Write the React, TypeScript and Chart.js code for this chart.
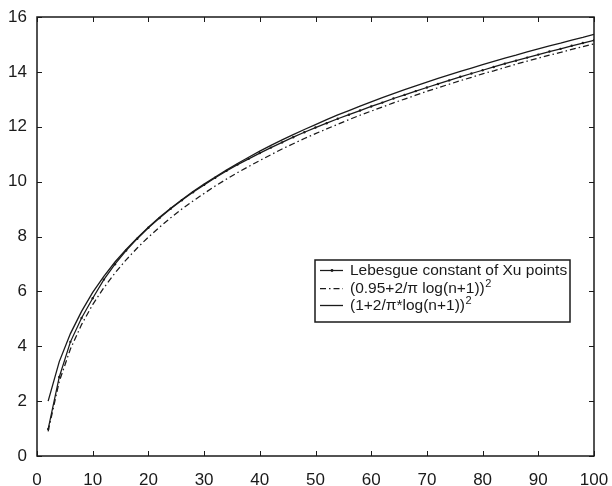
import React, { useEffect, useRef } from "react";
import { Chart, registerables } from "chart.js";

Chart.register(...registerables);

const nValues = [2, 4, 6, 8, 10, 12, 14, 16, 18, 20, 22, 24, 26, 28, 30, 32, 34, 36, 38, 40, 42, 44, 46, 48, 50, 52, 54, 56, 58, 60, 62, 64, 66, 68, 70, 72, 74, 76, 78, 80, 82, 84, 86, 88, 90, 92, 94, 96, 98, 100];

const lebesgueXu = [0.98, 2.88, 4.16, 5.03, 5.75, 6.43, 6.99, 7.49, 7.92, 8.32, 8.67, 9.01, 9.32, 9.61, 9.88, 10.14, 10.39, 10.62, 10.83, 11.04, 11.24, 11.43, 11.62, 11.8, 11.97, 12.13, 12.29, 12.44, 12.59, 12.74, 12.88, 13.03, 13.16, 13.3, 13.43, 13.56, 13.69, 13.82, 13.94, 14.06, 14.18, 14.3, 14.41, 14.52, 14.63, 14.74, 14.84, 14.95, 15.05, 15.15];

const bound095 = [0.9, 2.72, 3.9, 4.79, 5.52, 6.13, 6.67, 7.15, 7.58, 7.98, 8.34, 8.68, 9.0, 9.29, 9.57, 9.84, 10.09, 10.33, 10.55, 10.77, 10.98, 11.19, 11.38, 11.57, 11.75, 11.92, 12.09, 12.26, 12.42, 12.57, 12.72, 12.87, 13.01, 13.15, 13.29, 13.42, 13.55, 13.68, 13.8, 13.93, 14.04, 14.16, 14.28, 14.39, 14.5, 14.61, 14.71, 14.82, 14.92, 15.02];

const bound1 = [2.0, 3.44, 4.46, 5.27, 5.96, 6.55, 7.07, 7.53, 7.95, 8.34, 8.7, 9.03, 9.34, 9.64, 9.91, 10.17, 10.42, 10.66, 10.89, 11.11, 11.32, 11.52, 11.71, 11.9, 12.08, 12.26, 12.43, 12.59, 12.75, 12.91, 13.06, 13.21, 13.35, 13.49, 13.63, 13.76, 13.89, 14.02, 14.14, 14.26, 14.38, 14.5, 14.61, 14.73, 14.84, 14.95, 15.05, 15.16, 15.26, 15.37];

const seriesLabels = [
  "Lebesgue constant of Xu points",
  "(0.95+2/\u03c0 log(n+1))\u00b2",
  "(1+2/\u03c0*log(n+1))\u00b2",
];

const FONT = "'Liberation Sans', Arial, Helvetica, sans-serif";
const INK = "#1a1a1a";

const framePlugin = {
  id: "frameTicks",
  afterDraw(chart: any) {
    const { ctx, chartArea: a, scales } = chart;
    const xs = scales.x;
    const ys = scales.y;
    const len = 5;
    ctx.save();
    ctx.strokeStyle = INK;
    ctx.lineWidth = 1;
    ctx.beginPath();
    xs.ticks.forEach((t: any) => {
      const px = Math.round(xs.getPixelForValue(t.value)) + 0.5;
      ctx.moveTo(px, a.bottom);
      ctx.lineTo(px, a.bottom - len);
      ctx.moveTo(px, a.top);
      ctx.lineTo(px, a.top + len);
    });
    ys.ticks.forEach((t: any) => {
      const py = Math.round(ys.getPixelForValue(t.value)) + 0.5;
      ctx.moveTo(a.left, py);
      ctx.lineTo(a.left + len, py);
      ctx.moveTo(a.right, py);
      ctx.lineTo(a.right - len, py);
    });
    ctx.stroke();
    ctx.lineWidth = 1.5;
    ctx.strokeRect(a.left, a.top, a.right - a.left, a.bottom - a.top);
    ctx.restore();
  },
};

const legendPlugin = {
  id: "boxLegend",
  afterDraw(chart: any, _args: any, opts: any) {
    const { ctx } = chart;
    const { x, y, w, h, rowH, firstRow } = opts;
    ctx.save();
    ctx.fillStyle = "#ffffff";
    ctx.fillRect(x, y, w, h);
    ctx.strokeStyle = INK;
    ctx.lineWidth = 1.5;
    ctx.strokeRect(x, y, w, h);
    ctx.textBaseline = "middle";
    chart.data.datasets.forEach((ds: any, i: number) => {
      const cy = Math.round(y + firstRow + i * rowH) + 0.5;
      ctx.strokeStyle = ds.borderColor;
      ctx.lineWidth = ds.borderWidth;
      ctx.setLineDash(ds.borderDash || []);
      ctx.beginPath();
      ctx.moveTo(x + 5, cy);
      ctx.lineTo(x + 28, cy);
      ctx.stroke();
      ctx.setLineDash([]);
      if (ds.pointRadius > 0) {
        ctx.fillStyle = ds.borderColor;
        ctx.beginPath();
        ctx.arc(x + 17, cy, 1.4, 0, Math.PI * 2);
        ctx.fill();
      }
      ctx.fillStyle = INK;
      const label: string = ds.label;
      const tx = x + 35;
      if (label.endsWith("\u00b2")) {
        const base = label.slice(0, -1);
        ctx.font = `15.5px ${FONT}`;
        ctx.fillText(base, tx, cy);
        const bw = ctx.measureText(base).width;
        ctx.font = `11px ${FONT}`;
        ctx.fillText("2", tx + bw + 0.5, cy - 5);
      } else {
        ctx.font = `15.5px ${FONT}`;
        ctx.fillText(label, tx, cy);
      }
    });
    ctx.restore();
  },
};

export default function App() {
  const ref = useRef<HTMLCanvasElement | null>(null);

  useEffect(() => {
    document.body.style.margin = "0";
    const canvas = ref.current;
    if (!canvas) return;
    const toPts = (arr: number[]) => nValues.map((n, i) => ({ x: n, y: arr[i] }));
    const chart = new Chart(canvas, {
      type: "line",
      data: {
        datasets: [
          {
            label: seriesLabels[0],
            data: toPts(lebesgueXu),
            borderColor: INK,
            backgroundColor: INK,
            borderWidth: 1.25,
            pointRadius: 1.2,
            pointBorderWidth: 0,
            pointBackgroundColor: INK,
            tension: 0,
            fill: false,
          },
          {
            label: seriesLabels[1],
            data: toPts(bound095),
            borderColor: INK,
            borderWidth: 1.25,
            borderDash: [6, 3, 1.5, 3],
            pointRadius: 0,
            tension: 0,
            fill: false,
          },
          {
            label: seriesLabels[2],
            data: toPts(bound1),
            borderColor: INK,
            borderWidth: 1.3,
            pointRadius: 0,
            tension: 0,
            fill: false,
          },
        ],
      } as any,
      options: {
        animation: false,
        responsive: false,
        maintainAspectRatio: false,
        devicePixelRatio: 1,
        layout: { padding: { left: 0, top: 17, right: 18, bottom: 0 } },
        plugins: {
          legend: { display: false },
          tooltip: { enabled: false },
          boxLegend: { x: 315, y: 260, w: 255, h: 62, rowH: 17.5, firstRow: 10 },
        } as any,
        scales: {
          x: {
            type: "linear",
            min: 0,
            max: 100,
            grid: { display: false, drawTicks: false },
            border: { display: false },
            ticks: {
              stepSize: 10,
              padding: 14,
              maxRotation: 0,
              color: INK,
              font: { family: FONT, size: 17 },
            },
            afterFit(scale: any) {
              scale.height = 30;
              scale.paddingLeft = 0;
              scale.paddingRight = 0;
            },
          },
          y: {
            type: "linear",
            min: 0,
            max: 16,
            grid: { display: false, drawTicks: false },
            border: { display: false },
            ticks: {
              stepSize: 2,
              padding: 10,
              color: INK,
              font: { family: FONT, size: 17 },
            },
            afterFit(scale: any) {
              scale.width = 37;
              scale.paddingTop = 0;
              scale.paddingBottom = 0;
            },
          },
        },
      },
      plugins: [framePlugin, legendPlugin],
    });
    return () => chart.destroy();
  }, []);

  return (
    <div style={{ width: 612, height: 486, background: "#fff" }}>
      <canvas ref={ref} width={612} height={486} style={{ display: "block" }} />
    </div>
  );
}
